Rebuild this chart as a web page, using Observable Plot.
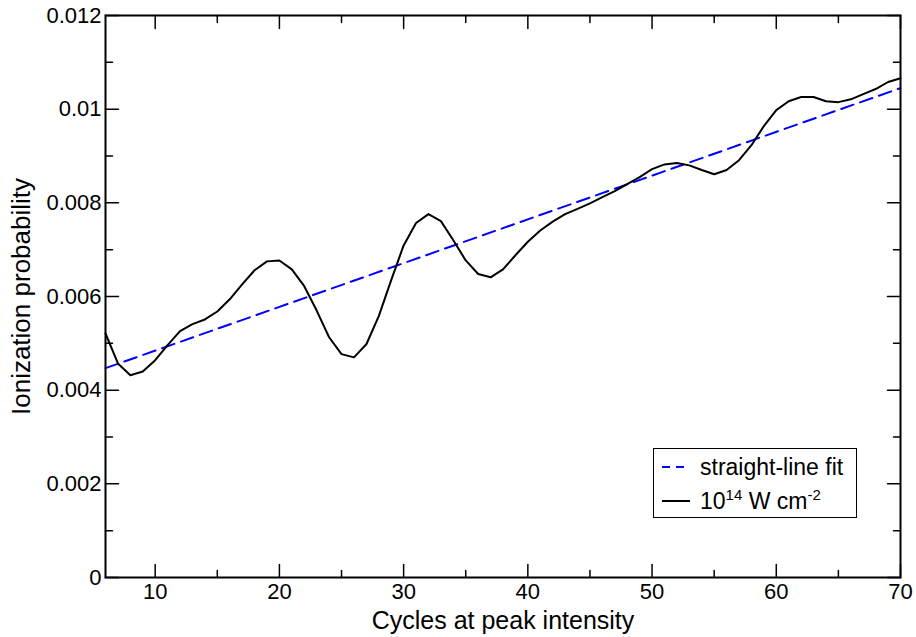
<!DOCTYPE html>
<html>
<head>
<meta charset="utf-8">
<script src="https://cdn.jsdelivr.net/npm/d3@7"></script>
<script src="https://cdn.jsdelivr.net/npm/@observablehq/plot@0.6"></script>
<style>
  html, body { margin: 0; padding: 0; background: #fff; }
  #wrap { position: relative; width: 916px; height: 637px; font-family: "Liberation Sans", Arial, sans-serif; }
  #legend { position: absolute; left: 653px; top: 448px; width: 202px; height: 68px; border: 1.5px solid #000; background: #fff; font-size: 23px; }
  #legend .row { position: absolute; left: 0; height: 30px; display: flex; align-items: center; white-space: nowrap; }
  #legend svg { margin-left: 8px; margin-right: 10px; }
  sup { font-size: 15px; vertical-align: 0; position: relative; top: -9px; }
</style>
</head>
<body>
<div id="wrap">
  <div id="chart"></div>
  <div id="legend">
    <div class="row" style="top:3px"><svg width="28" height="10"><line x1="0" x2="28" y1="5" y2="5" stroke="#0000ff" stroke-width="2" stroke-dasharray="8,6"/></svg><span>straight-line fit</span></div>
    <div class="row" style="top:37px"><svg width="28" height="10"><line x1="0" x2="28" y1="5" y2="5" stroke="#000" stroke-width="2"/></svg><span>10<sup>14</sup> W cm<sup>-2</sup></span></div>
  </div>
</div>
<script>
// ---- data ----
const cycles = [6,7,8,9,10,11,12,13,14,15,16,17,18,19,20,21,22,23,24,25,26,27,28,29,30,31,32,33,34,35,36,37,38,
  39,40,41,42,43,44,45,46,47,48,49,50,51,52,53,54,55,56,57,58,59,60,61,62,63,64,65,66,67,68,69,70];
const probability = [0.00521,0.00457,0.00432,0.00440,0.00464,0.00496,0.00526,0.00541,0.00551,0.00568,0.00594,0.00626,
  0.00656,0.00675,0.00677,0.00658,0.00622,0.00570,0.00513,0.00477,0.00470,0.00498,0.00558,0.00635,0.00709,0.00757,
  0.00776,0.00761,0.00720,0.00677,0.00648,0.00641,0.00658,0.00688,0.00717,0.00741,0.00760,0.00776,0.00787,0.00799,
  0.00812,0.00825,0.00840,0.00855,0.00872,0.00882,0.00885,0.00880,0.00870,0.00861,0.00870,0.00891,0.00923,0.00964,
  0.00998,0.01017,0.01026,0.01026,0.01017,0.01015,0.01021,0.01032,0.01043,0.01058,0.01066];
const fitCycles = [6, 70];
const fitProbability = [0.00447, 0.01045];
const xMajorTicks = [10, 20, 30, 40, 50, 60, 70];
const xMinorTicks = [15, 25, 35, 45, 55, 65];
const yMajorTicks = [0, 0.002, 0.004, 0.006, 0.008, 0.01, 0.012];
const yTickLabels = ["0", "0.002", "0.004", "0.006", "0.008", "0.01", "0.012"];
const yMinorTicks = [0.001, 0.003, 0.005, 0.007, 0.009, 0.011];
const xDomain = [6, 70];
const yDomain = [0, 0.012];
const xTitle = "Cycles at peak intensity";
const yTitle = "Ionization probability";

const curve = cycles.map((c, i) => ({c, p: probability[i]}));
const fit = fitCycles.map((c, i) => ({c, p: fitProbability[i]}));

const tickShape = { draw(ctx, l) { ctx.moveTo(0, 0); ctx.lineTo(0, -l); } };
const tickOpts = {anchor: "start", shape: tickShape, stroke: "black", strokeWidth: 1.5};

const chart = Plot.plot({
  width: 916,
  height: 637,
  marginLeft: 105,
  marginRight: 16,
  marginTop: 15,
  marginBottom: 60,
  style: {fontFamily: "'Liberation Sans', Arial, sans-serif", fontSize: "22px", background: "#fff", color: "#000"},
  x: {domain: xDomain},
  y: {domain: yDomain},
  marks: [
    Plot.axisX(xMajorTicks, {tickSize: 0, tickPadding: 6, fontSize: 22, label: null}),
    Plot.axisY(yMajorTicks, {tickSize: 0, tickPadding: 4, fontSize: 22, label: null,
      tickFormat: d => yTickLabels[yMajorTicks.indexOf(d)]}),
    Plot.text([xTitle], {frameAnchor: "bottom", dy: 43, lineAnchor: "middle", textAnchor: "middle", fontSize: 25, text: d => d}),
    Plot.text([yTitle], {frameAnchor: "left", dx: -84, rotate: -90, lineAnchor: "middle", textAnchor: "middle", fontSize: 26, text: d => d}),
    // inward ticks on all four sides
    Plot.vector(xMajorTicks, {x: d => d, y: yDomain[0], length: 13, rotate: 0, ...tickOpts}),
    Plot.vector(xMinorTicks, {x: d => d, y: yDomain[0], length: 7, rotate: 0, ...tickOpts}),
    Plot.vector(xMajorTicks, {x: d => d, y: yDomain[1], length: 13, rotate: 180, ...tickOpts}),
    Plot.vector(xMinorTicks, {x: d => d, y: yDomain[1], length: 7, rotate: 180, ...tickOpts}),
    Plot.vector(yMajorTicks, {y: d => d, x: xDomain[0], length: 13, rotate: 90, ...tickOpts}),
    Plot.vector(yMinorTicks, {y: d => d, x: xDomain[0], length: 7, rotate: 90, ...tickOpts}),
    Plot.vector(yMajorTicks, {y: d => d, x: xDomain[1], length: 13, rotate: 270, ...tickOpts}),
    Plot.vector(yMinorTicks, {y: d => d, x: xDomain[1], length: 7, rotate: 270, ...tickOpts}),
    Plot.line(fit, {x: "c", y: "p", stroke: "#0000ff", strokeWidth: 2, strokeDasharray: "13,7"}),
    Plot.line(curve, {x: "c", y: "p", stroke: "#000", strokeWidth: 2, curve: "linear"}),
    Plot.frame({stroke: "#000", strokeWidth: 2})
  ]
});
document.getElementById("chart").appendChild(chart);
</script>
</body>
</html>
